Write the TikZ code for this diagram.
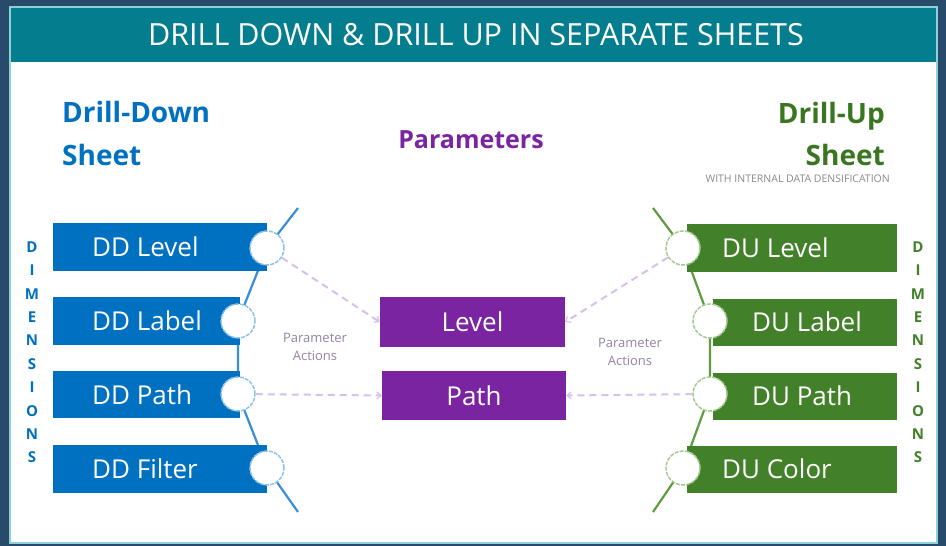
\documentclass[tikz,border=0pt]{standalone}
\usepackage{fontspec}
\setmainfont{Open Sans}
\usetikzlibrary{arrows.meta}
\definecolor{bgdark}{HTML}{294B6B}
\definecolor{panelborder}{HTML}{8FD0D6}
\definecolor{titlebar}{HTML}{047E8E}
\definecolor{ddblue}{HTML}{0070C0}
\definecolor{dugreen}{HTML}{43802A}
\definecolor{pmpurple}{HTML}{7A24A1}
\definecolor{dashpurple}{HTML}{D7C0EA}
\definecolor{ddline}{HTML}{3A8ED6}
\definecolor{duline}{HTML}{5F9B40}
\definecolor{ddring}{HTML}{8CC2EC}
\definecolor{during}{HTML}{A6CB92}
\definecolor{actgray}{HTML}{9583A6}
\definecolor{subgray}{HTML}{8A8A8A}
\definecolor{dugreentext}{HTML}{3A7620}
\tikzset{
  ddbox/.style={fill=ddblue, draw=none, anchor=north west, inner sep=0},
  dubox/.style={fill=dugreen, draw=none, anchor=north west, inner sep=0},
  pmbox/.style={fill=pmpurple, draw=none, text=white, inner sep=0, font=\fontsize{26}{30}\selectfont},
  boxtext/.style={text=white, anchor=west, inner sep=0, font=\fontsize{26}{30}\selectfont},
  ddcirc/.style={circle, minimum size=34pt, inner sep=0, fill=white, draw=ddring, line width=1.5pt, dash pattern=on 4pt off 1.2pt},
  ducirc/.style={circle, minimum size=34pt, inner sep=0, fill=white, draw=during, line width=1.5pt, dash pattern=on 4pt off 1.2pt},
  ddlinestyle/.style={draw=ddline, line width=2.2pt},
  dulinestyle/.style={draw=duline, line width=2.2pt},
  dasharrow/.style={draw=dashpurple, line width=2pt, dash pattern=on 7pt off 5pt, -{Straight Barb[length=4pt,width=7pt,line width=1.2pt]}},
  dimletter/.style={inner sep=0, font=\fontsize{15}{15}\selectfont\bfseries},
  acttext/.style={text=actgray, align=center, inner sep=0, font=\fontsize{13}{18}\selectfont},
}
\begin{document}
\begin{tikzpicture}[x=1pt,y=-1pt]
\useasboundingbox (0,0) rectangle (946,546);
\fill[bgdark] (0,0) rectangle (946,546);
\draw[panelborder, line width=2pt, fill=white] (10,7) rectangle (937,543);
\fill[titlebar] (11,8) rectangle (936,62);
\node[font=\fontsize{30.5}{33}\selectfont, text=white, inner sep=0] (title) at (476,35) {DRILL DOWN \& DRILL UP IN SEPARATE SHEETS};

% headings
\node[anchor=base west, inner sep=0, text=ddblue, font=\fontsize{28}{32}\selectfont\bfseries] (ddh1) at (62,122) {Drill-Down};
\node[anchor=base west, inner sep=0, text=ddblue, font=\fontsize{28}{32}\selectfont\bfseries] (ddh2) at (62,165) {Sheet};
\node[anchor=base east, inner sep=0, text=dugreentext, font=\fontsize{28}{32}\selectfont\bfseries] (duh1) at (885,123) {Drill-Up};
\node[anchor=base east, inner sep=0, text=dugreentext, font=\fontsize{28}{32}\selectfont\bfseries] (duh2) at (885,165) {Sheet};
\node[anchor=east, inner sep=0, text=subgray, font=\fontsize{10.5}{12}\selectfont] (dusub) at (890,179) {WITH INTERNAL DATA DENSIFICATION};
\node[inner sep=0, text=pmpurple, font=\fontsize{25}{30}\selectfont\bfseries] (parh) at (471,140) {Parameters};

% connector lines
\coordinate (ldtop) at (298,208);
\coordinate (ldbot) at (298,512);
\coordinate (rutop) at (653,208);
\coordinate (rubot) at (653,512);
\coordinate (lc1) at (267,248);
\coordinate (lc2) at (238,321);
\coordinate (lc3) at (238,394);
\coordinate (lc4) at (267,468);
\coordinate (rc1) at (683,248);
\coordinate (rc2) at (710,321);
\coordinate (rc3) at (710,394);
\coordinate (rc4) at (683,468);
\draw[ddlinestyle] (ldtop) -- (lc1) -- (lc2) -- (lc3) -- (lc4) -- (ldbot);
\draw[dulinestyle] (rutop) -- (rc1) -- (rc2) -- (rc3) -- (rc4) -- (rubot);

% left boxes
\node[ddbox, minimum width=214pt, minimum height=48pt] (ddb1) at (53,223) {};
\node[ddbox, minimum width=187pt, minimum height=48pt] (ddb2) at (53,297) {};
\node[ddbox, minimum width=187pt, minimum height=47pt] (ddb3) at (53,371) {};
\node[ddbox, minimum width=214pt, minimum height=48pt] (ddb4) at (53,445) {};
\node[boxtext] (ddt1) at (92,247) {DD Level};
\node[boxtext] (ddt2) at (92,321) {DD Label};
\node[boxtext] (ddt3) at (92,395) {DD Path};
\node[boxtext] (ddt4) at (92,469) {DD Filter};
\node[ddcirc] (c1) at (lc1) {};
\node[ddcirc] (c2) at (lc2) {};
\node[ddcirc] (c3) at (lc3) {};
\node[ddcirc] (c4) at (lc4) {};

% right boxes
\node[dubox, minimum width=210pt, minimum height=48pt] (dub1) at (687,224) {};
\node[dubox, minimum width=184pt, minimum height=47pt] (dub2) at (713,299) {};
\node[dubox, minimum width=184pt, minimum height=47pt] (dub3) at (713,373) {};
\node[dubox, minimum width=210pt, minimum height=47pt] (dub4) at (687,446) {};
\node[boxtext] (dut1) at (722,248) {DU Level};
\node[boxtext] (dut2) at (752,322) {DU Label};
\node[boxtext] (dut3) at (752,396) {DU Path};
\node[boxtext] (dut4) at (722,469) {DU Color};
\node[ducirc] (d1) at (rc1) {};
\node[ducirc] (d2) at (rc2) {};
\node[ducirc] (d3) at (rc3) {};
\node[ducirc] (d4) at (rc4) {};

% parameter boxes
\node[pmbox, minimum width=185pt, minimum height=50pt] (plevel) at (472.5,322) {Level};
\node[pmbox, minimum width=184pt, minimum height=49pt] (ppath) at (474,395.5) {Path};

% dashed arrows
\draw[dasharrow] (c1) -- (plevel.west);
\draw[dasharrow] (c3) -- (ppath.west);
\draw[dasharrow] (d1) -- (plevel.east);
\draw[dasharrow] (d3) -- (ppath.east);

% parameter action labels
\node[acttext] (actl) at (315,347) {Parameter\\Actions};
\node[acttext] (actr) at (630,352) {Parameter\\Actions};

% DIMENSIONS
\foreach \ch [count=\i from 0] in {D,I,M,E,N,S,I,O,N,S} {
  \node[dimletter, text=ddblue] (dl\i) at (32,247+23.4*\i) {\ch};
  \node[dimletter, text=dugreen] (dr\i) at (918,247+23.4*\i) {\ch};
}
\end{tikzpicture}
\end{document}
